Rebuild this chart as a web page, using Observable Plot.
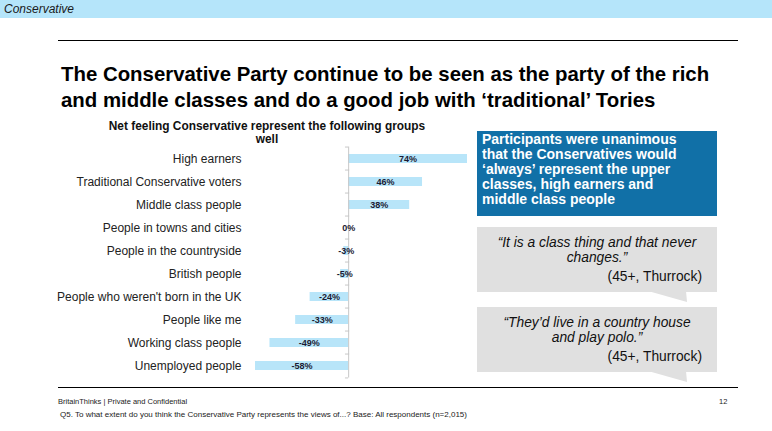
<!DOCTYPE html>
<html>
<head>
<meta charset="utf-8">
<script src="https://cdn.jsdelivr.net/npm/d3@7"></script>
<script src="https://cdn.jsdelivr.net/npm/@observablehq/plot@0.6"></script>
<style>
  html, body { margin: 0; padding: 0; background: #fff; }
  body { width: 772px; height: 431px; position: relative; overflow: hidden;
         font-family: "Liberation Sans", Arial, sans-serif; color: #000; }
  .abs { position: absolute; }
  #band { left: 0; top: 0; width: 772px; height: 18px; background: #b5e5fa; }
  #band span { position: absolute; left: 4px; top: 2px; font-style: italic; font-size: 12px; color: #1a1a1a; }
  .hline { left: 58px; width: 680px; height: 1.5px; background: #000; }
  #title { left: 61px; top: 61px; font-weight: bold; font-size: 20.4px; line-height: 26px; white-space: nowrap; color: #000; }
  #sub { left: 80px; top: 120px; width: 374px; text-align: center; font-weight: bold; font-size: 11.9px; line-height: 12.5px; color: #111; }
  #chart { left: 0; top: 130px; }
  #blue { left: 477px; top: 131px; width: 240px; height: 85px; background: #1170a7; color: #fff;
          font-weight: bold; font-size: 14px; line-height: 15px; box-sizing: border-box; padding: 1px 0 0 5px; white-space: nowrap; }
  .grey { left: 477px; width: 240px; background: #e0e0e0; }
  .q { position: absolute; left: 0; width: 240px; text-align: center; font-style: italic; font-size: 13.8px; line-height: 14.5px; color: #111; }
  .who { position: absolute; right: 15px; font-size: 13.8px; color: #111; }
  #foot1 { left: 58px; top: 397px; font-size: 7.5px; color: #222; }
  #pg { left: 719px; top: 397px; font-size: 7.5px; color: #222; }
  #foot2 { left: 60px; top: 410px; font-size: 8px; color: #222; }
</style>
</head>
<body>
<div id="band" class="abs"><span>Conservative</span></div>
<div class="abs hline" style="top:39.5px"></div>
<div id="title" class="abs">The Conservative Party continue to be seen as the party of the rich<br>and middle classes and do a good job with ‘traditional’ Tories</div>
<div id="sub" class="abs">Net feeling Conservative represent the following groups<br>well</div>
<div id="chart" class="abs"></div>

<div id="blue" class="abs">Participants were unanimous<br>that the Conservatives would<br>‘always’ represent the upper<br>classes, high earners and<br>middle class people</div>

<svg class="abs" style="left:0;top:0" width="772" height="431">
  <polygon points="648,291 686,291 687,302" fill="#e0e0e0"/>
  <polygon points="648,371 686,371 687,382" fill="#e0e0e0"/>
</svg>
<div class="abs grey" style="top:227px;height:64.5px">
  <div class="q" style="top:9px">“It is a class thing and that never<br>changes.”</div>
  <div class="who" style="top:42px">(45+, Thurrock)</div>
</div>
<div class="abs grey" style="top:307px;height:64.5px">
  <div class="q" style="top:9px">“They’d live in a country house<br>and play polo.”</div>
  <div class="who" style="top:42px">(45+, Thurrock)</div>
</div>

<div class="abs hline" style="top:386.5px"></div>
<div id="foot1" class="abs">BritainThinks | Private and Confidential</div>
<div id="pg" class="abs">12</div>
<div id="foot2" class="abs">Q5. To what extent do you think the Conservative Party represents the views of...? Base: All respondents (n=2,015)</div>

<script>
const categories = [
  "High earners",
  "Traditional Conservative voters",
  "Middle class people",
  "People in towns and cities",
  "People in the countryside",
  "British people",
  "People who weren't born in the UK",
  "People like me",
  "Working class people",
  "Unemployed people"
];
const values = [74, 46, 38, 0, -3, -5, -24, -33, -49, -58];
const valueLabels = ["74%", "46%", "38%", "0%", "-3%", "-5%", "-24%", "-33%", "-49%", "-58%"];

const data = categories.map((c, i) => ({cat: c, value: values[i], label: valueLabels[i]}));
const halfStep = 11.95;

const chart = Plot.plot({
  width: 480,
  height: 260,
  marginLeft: 255,
  marginRight: 13,
  marginTop: 5,
  marginBottom: 1,
  style: {fontFamily: "'Liberation Sans', Arial, sans-serif", background: "transparent", overflow: "visible"},
  x: {domain: [-58, 74], axis: null},
  y: {domain: categories, padding: 0.623, axis: null},
  marks: [
    Plot.barX(data, {x: "value", y: "cat", fill: "#b8e5f9"}),
    Plot.tickX(categories, {x: () => 0, y: d => d, stroke: "#c8c8c8", strokeWidth: 1, insetTop: -7.5, insetBottom: -7.5}),
    Plot.ruleY(categories, {y: d => d, x1: -2, x2: 0, dy: -halfStep, stroke: "#c8c8c8"}),
    Plot.ruleY([categories[categories.length - 1]], {y: d => d, x1: -2, x2: 0, dy: halfStep, stroke: "#c8c8c8"}),
    Plot.axisY({tickSize: 0, tickPadding: 14, fontSize: 12, fill: "#222", label: null}),
    Plot.text(data, {x: d => d.value / 2, y: "cat", text: "label", fontWeight: "bold", fontSize: 9, fill: "#1b1b33"})
  ]
});
document.getElementById("chart").appendChild(chart);
</script>
</body>
</html>
